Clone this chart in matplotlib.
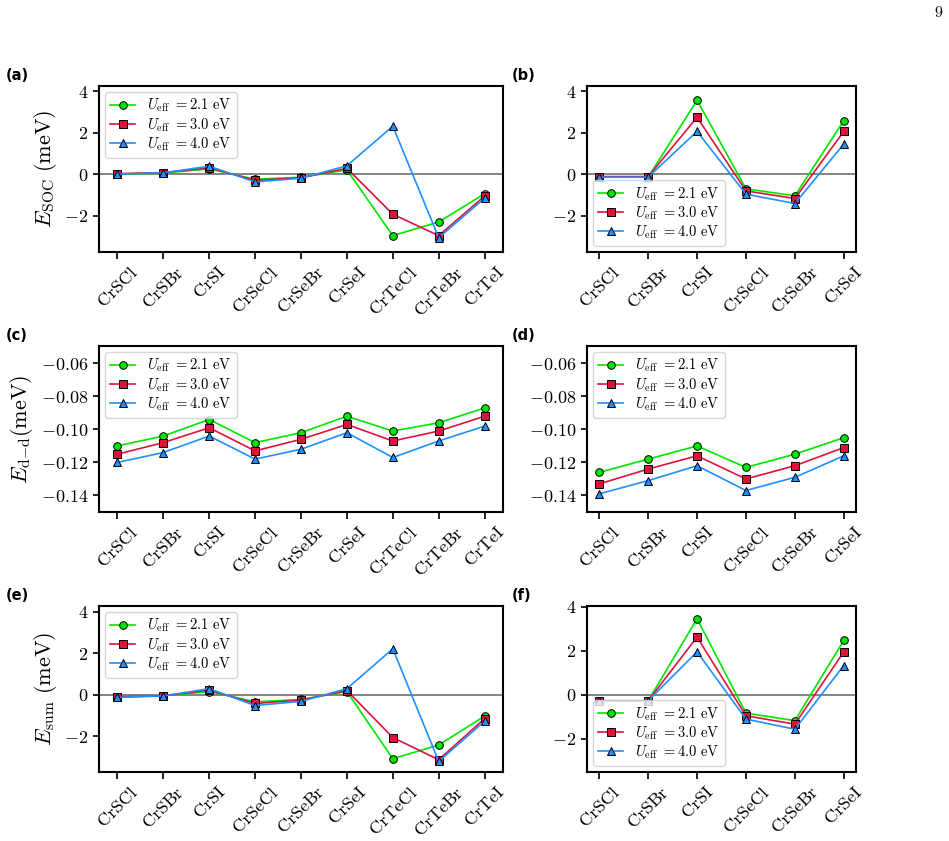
import matplotlib
matplotlib.use("Agg")
import matplotlib.pyplot as plt

plt.rcParams['font.family'] = 'serif'
plt.rcParams['font.serif'] = ['cmr10']
plt.rcParams['mathtext.fontset'] = 'cm'
plt.rcParams['axes.formatter.use_mathtext'] = True
plt.rcParams['axes.unicode_minus'] = True

cats_all = ['CrSCl', 'CrSBr', 'CrSI', 'CrSeCl', 'CrSeBr', 'CrSeI', 'CrTeCl', 'CrTeBr', 'CrTeI']
cats_half = ['CrSCl', 'CrSBr', 'CrSI', 'CrSeCl', 'CrSeBr', 'CrSeI']
u_labels = [r'$U_{\rm eff}\ = 2.1\ {\rm eV}$', r'$U_{\rm eff}\ = 3.0\ {\rm eV}$',
            r'$U_{\rm eff}\ = 4.0\ {\rm eV}$']

# (a) E_SOC
soc_a_21 = [0.0, 0.05, 0.25, -0.25, -0.15, 0.2, -2.97, -2.31, -0.95]
soc_a_30 = [0.02, 0.07, 0.30, -0.30, -0.18, 0.28, -1.94, -2.97, -1.06]
soc_a_40 = [0.0, 0.06, 0.38, -0.38, -0.20, 0.40, 2.31, -3.07, -1.16]
# (b) E_SOC
soc_b_21 = [-0.15, -0.15, 3.56, -0.71, -1.05, 2.58]
soc_b_30 = [-0.12, -0.12, 2.74, -0.81, -1.18, 2.06]
soc_b_40 = [-0.15, -0.15, 2.06, -0.97, -1.42, 1.45]
# (c) E_d-d
dd_c_21 = [-0.110, -0.104, -0.094, -0.108, -0.102, -0.092, -0.101, -0.096, -0.087]
dd_c_30 = [-0.115, -0.108, -0.099, -0.113, -0.106, -0.097, -0.107, -0.101, -0.092]
dd_c_40 = [-0.120, -0.114, -0.104, -0.118, -0.112, -0.102, -0.117, -0.107, -0.098]
# (d) E_d-d
dd_d_21 = [-0.126, -0.118, -0.110, -0.123, -0.115, -0.105]
dd_d_30 = [-0.133, -0.124, -0.116, -0.130, -0.122, -0.111]
dd_d_40 = [-0.139, -0.131, -0.122, -0.137, -0.129, -0.116]
# (e) E_sum
sum_e_21 = [-0.10, -0.05, 0.15, -0.34, -0.23, 0.15, -3.08, -2.42, -1.03]
sum_e_30 = [-0.10, -0.05, 0.22, -0.42, -0.26, 0.20, -2.06, -3.13, -1.15]
sum_e_40 = [-0.13, -0.06, 0.29, -0.52, -0.32, 0.29, 2.21, -3.21, -1.27]
# (f) E_sum
sum_f_21 = [-0.27, -0.27, 3.45, -0.83, -1.17, 2.47]
sum_f_30 = [-0.27, -0.27, 2.62, -0.95, -1.33, 1.95]
sum_f_40 = [-0.30, -0.27, 1.95, -1.10, -1.56, 1.33]

colors = ['#00e600', '#dc143c', '#1e90ff']
markers = ['o', 's', '^']

W, H = 949, 841
fig = plt.figure(figsize=(W / 100, H / 100), dpi=100)


def ax_at(x0, x1, y0, y1):
    return fig.add_axes([x0 / W, 1 - y1 / H, (x1 - x0) / W, (y1 - y0) / H])


panels = [
    ('(a)', (99, 503, 86, 252), cats_all, [soc_a_21, soc_a_30, soc_a_40], 'upper left', (-3.76, 4.25), True,
     r'$E_{\rm SOC}\ ({\rm meV})$'),
    ('(b)', (587, 856, 86, 252), cats_half, [soc_b_21, soc_b_30, soc_b_40], 'lower left', (-3.76, 4.25), True, None),
    ('(c)', (99, 503, 346, 512), cats_all, [dd_c_21, dd_c_30, dd_c_40], 'upper left', (-0.15, -0.0495), False,
     r'$E_{\rm d{-}d}({\rm meV})$'),
    ('(d)', (587, 856, 346, 512), cats_half, [dd_d_21, dd_d_30, dd_d_40], 'upper left', (-0.15, -0.0495), False, None),
    ('(e)', (99, 503, 606, 772), cats_all, [sum_e_21, sum_e_30, sum_e_40], 'upper left', (-3.72, 4.27), True,
     r'$E_{\rm sum}\ ({\rm meV})$'),
    ('(f)', (587, 856, 606, 772), cats_half, [sum_f_21, sum_f_30, sum_f_40], 'lower left', (-3.5, 4.03), True, None),
]

for tag, box, cats, series, loc, ylim, zero, ylabel in panels:
    ax = ax_at(*box)
    x = list(range(len(cats)))
    if zero:
        ax.axhline(0, color='#6e6e6e', lw=1.2, zorder=1)
    for vals, c, m, lab in zip(series, colors, markers, u_labels):
        ax.plot(x, vals, color=c, marker=m, markersize=5.5, markeredgecolor='black',
                markeredgewidth=0.7, lw=1.2, label=lab, zorder=3)
    ax.set_ylim(*ylim)
    if zero:
        ax.set_yticks([-2, 0, 2, 4])
    else:
        ax.set_yticks([-0.14, -0.12, -0.10, -0.08, -0.06])
    ax.set_xticks(x)
    ax.set_xticklabels([r'$\rm %s$' % c for c in cats], rotation=45, fontsize=13)
    ax.tick_params(axis='y', labelsize=13, length=4, width=1.2)
    ax.tick_params(axis='x', length=5, width=1.2)
    for s in ax.spines.values():
        s.set_linewidth(1.5)
    if ylabel:
        ax.set_ylabel(ylabel, fontsize=16, labelpad=4)
    ax.legend(loc=loc, fontsize=10.5, handlelength=1.75, borderpad=0.35, labelspacing=0.12,
              handletextpad=0.8, framealpha=0.8, borderaxespad=0.4)
    lx = 6 if box[0] < 300 else 512
    fig.text(lx / W, 1 - (box[2] - 10) / H, tag, fontsize=10.5, fontweight='bold',
             family='DejaVu Sans', va='center', ha='left')

fig.text(938 / W, 1 - 13 / H, '9', fontsize=11.5, ha='center', va='center')

fig.savefig('out.png', dpi=100)
